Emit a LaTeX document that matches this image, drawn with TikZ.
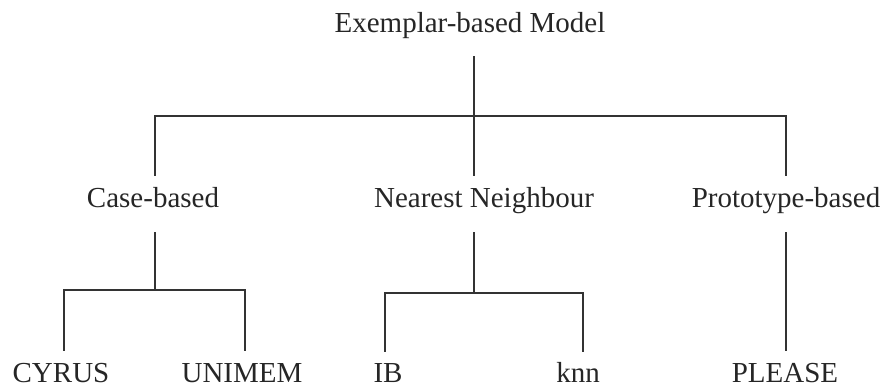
\documentclass[tikz,border=0pt]{standalone}
\usepackage{fontspec}
\setmainfont{Liberation Serif}
\begin{document}
\begin{tikzpicture}[x=1pt,y=-1pt,
  lbl/.style={inner sep=0pt, anchor=base, font=\fontsize{29}{32}\selectfont, text=black!85},
  branch/.style={line width=1.1pt, line cap=rect, color=black!80}]
\useasboundingbox (0,0) rectangle (882,389);

% labels (placed on their baselines)
\node[lbl] (root)   at (470,32)  {Exemplar-based Model};
\node[lbl] (case)   at (153,207) {Case-based};
\node[lbl] (nn)     at (484,207) {Nearest Neighbour};
\node[lbl] (proto)  at (786,207) {Prototype-based};
\node[lbl] (cyrus)  at (61,382)  {CYRUS};
\node[lbl] (unimem) at (242,382) {UNIMEM};
\node[lbl] (ib)     at (388,382) {IB};
\node[lbl] (knn)    at (578,382) {knn};
\node[lbl] (please) at (785,382) {PLEASE};

% end points and junctions of the tree
\coordinate (rootdown) at (474,57);
\coordinate (top)      at (474,116);
\coordinate (topl)     at (155,116);
\coordinate (topr)     at (786,116);
\coordinate (casein)   at (155,175);
\coordinate (nnin)     at (474,175);
\coordinate (protoin)  at (786,175);

\coordinate (caseout)  at (155,233);
\coordinate (casej)    at (155,290);
\coordinate (casel)    at (64,290);
\coordinate (caser)    at (245,290);
\coordinate (cyrusin)  at (64,350);
\coordinate (unimemin) at (245,350);

\coordinate (nnout)    at (474,233);
\coordinate (nnj)      at (474,293);
\coordinate (nnl)      at (385,293);
\coordinate (nnr)      at (583,293);
\coordinate (ibin)     at (385,351);
\coordinate (knnin)    at (583,351);

\coordinate (protoout) at (786,233);
\coordinate (pleasein) at (786,350);

% first level
\draw[branch] (rootdown) -- (top);
\draw[branch] (casein) -- (topl) -- (topr) -- (protoin);
\draw[branch] (top) -- (nnin);

% second level
\draw[branch] (caseout) -- (casej);
\draw[branch] (cyrusin) -- (casel) -- (caser) -- (unimemin);
\draw[branch] (nnout) -- (nnj);
\draw[branch] (ibin) -- (nnl) -- (nnr) -- (knnin);
\draw[branch] (protoout) -- (pleasein);
\end{tikzpicture}
\end{document}
